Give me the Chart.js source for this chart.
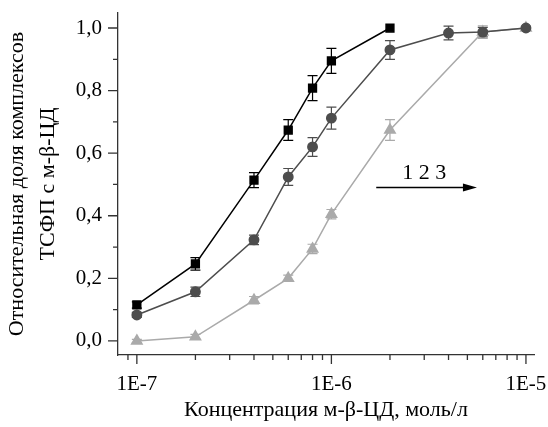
<!DOCTYPE html>
<html>
<head>
<meta charset="utf-8">
<script src="https://cdn.jsdelivr.net/npm/chart.js@4.4.0/dist/chart.umd.min.js"></script>
<style>
  html, body { margin: 0; padding: 0; background: #fff; }
  canvas { display: block; }
</style>
</head>
<body>
<canvas id="chart" width="548" height="427"></canvas>
<script>
// данные
const conc1 = [1e-7, 2e-7, 4e-7, 6e-7, 8e-7, 1e-6, 2e-6];
const frac1 = [0.115, 0.246, 0.514, 0.674, 0.808, 0.895, 1.0];
const err1  = [0.01, 0.02, 0.024, 0.033, 0.04, 0.04, 0.0];

const conc2 = [1e-7, 2e-7, 4e-7, 6e-7, 8e-7, 1e-6, 2e-6, 4e-6, 6e-6, 1e-5];
const frac2 = [0.083, 0.157, 0.323, 0.524, 0.62, 0.712, 0.93, 0.984, 0.987, 1.0];
const err2  = [0.008, 0.015, 0.015, 0.027, 0.03, 0.035, 0.03, 0.022, 0.015, 0.005];

const conc3 = [1e-7, 2e-7, 4e-7, 6e-7, 8e-7, 1e-6, 2e-6, 6e-6, 1e-5];
const frac3 = [0.0, 0.013, 0.13, 0.2, 0.294, 0.405, 0.674, 0.987, 1.0];
const err3  = [0.005, 0.008, 0.012, 0.01, 0.015, 0.015, 0.033, 0.02, 0.005];

const yMajor = [0, 0.2, 0.4, 0.6, 0.8, 1.0];
const yMinor = [0.1, 0.3, 0.5, 0.7, 0.9];
const xMajor = [1e-7, 1e-6, 1e-5];
const xMinor = [9e-8, 2e-7, 3e-7, 4e-7, 5e-7, 6e-7, 7e-7, 8e-7, 9e-7,
                2e-6, 3e-6, 4e-6, 5e-6, 6e-6, 7e-6, 8e-6, 9e-6];

const arrowText = '1 2 3';
const FONT = "'Liberation Serif', 'Times New Roman', serif";

function pts(xs, ys) { return xs.map((x, i) => ({x: x, y: ys[i]})); }

// не даём подписям крайних делений сжимать область графика
function noEdgePadding(s) {
  s.paddingLeft = 0; s.paddingRight = 0; s.paddingTop = 0; s.paddingBottom = 0;
}

const errorBars = {
  id: 'errorBars',
  beforeDatasetsDraw(chart) {
    const ctx = chart.ctx;
    const y = chart.scales.y;
    chart.data.datasets.forEach((ds, di) => {
      const meta = chart.getDatasetMeta(di);
      ctx.save();
      ctx.strokeStyle = ds.borderColor;
      ctx.lineWidth = 1.2;
      meta.data.forEach((p, i) => {
        const e = ds.errors[i];
        if (!e) return;
        const v = ds.data[i].y;
        const top = y.getPixelForValue(v + e);
        const bot = y.getPixelForValue(v - e);
        ctx.beginPath();
        ctx.moveTo(p.x, top); ctx.lineTo(p.x, bot);
        ctx.moveTo(p.x - 5, top); ctx.lineTo(p.x + 5, top);
        ctx.moveTo(p.x - 5, bot); ctx.lineTo(p.x + 5, bot);
        ctx.stroke();
      });
      ctx.restore();
    });
  }
};

const axisTicks = {
  id: 'axisTicks',
  afterDraw(chart) {
    const ctx = chart.ctx;
    const xs = chart.scales.x, ys = chart.scales.y;
    const area = chart.chartArea;
    ctx.save();
    ctx.strokeStyle = '#333';
    ctx.lineWidth = 1.3;
    ctx.beginPath();
    yMajor.forEach(v => { const p = ys.getPixelForValue(v); ctx.moveTo(area.left - 10, p); ctx.lineTo(area.left, p); });
    yMinor.forEach(v => { const p = ys.getPixelForValue(v); ctx.moveTo(area.left - 5, p); ctx.lineTo(area.left, p); });
    xMajor.forEach(v => { const p = xs.getPixelForValue(v); ctx.moveTo(p, area.bottom); ctx.lineTo(p, area.bottom + 9); });
    xMinor.forEach(v => { const p = xs.getPixelForValue(v); ctx.moveTo(p, area.bottom); ctx.lineTo(p, area.bottom + 5); });
    ctx.stroke();

    // стрелка с подписью 1 2 3
    const ax0 = xs.getPixelForValue(1.7e-6), ax1 = xs.getPixelForValue(5.6e-6);
    const ay = ys.getPixelForValue(0.49);
    ctx.strokeStyle = '#000';
    ctx.fillStyle = '#000';
    ctx.lineWidth = 1.5;
    ctx.beginPath();
    ctx.moveTo(ax0, ay); ctx.lineTo(ax1 - 8, ay);
    ctx.stroke();
    ctx.beginPath();
    ctx.moveTo(ax1, ay); ctx.lineTo(ax1 - 14, ay - 4); ctx.lineTo(ax1 - 14, ay + 4);
    ctx.closePath();
    ctx.fill();
    ctx.font = '22px ' + FONT;
    ctx.textAlign = 'center';
    ctx.textBaseline = 'middle';
    ctx.fillText(arrowText, xs.getPixelForValue(3.0e-6), ys.getPixelForValue(0.537));
    ctx.restore();
  }
};

new Chart(document.getElementById('chart'), {
  type: 'line',
  data: {
    datasets: [
      { data: pts(conc1, frac1), errors: err1, borderColor: '#000', backgroundColor: '#000',
        pointStyle: 'rect', pointRadius: 5.5, borderWidth: 1.5 },
      { data: pts(conc2, frac2), errors: err2, borderColor: '#4d4d4d', backgroundColor: '#4d4d4d',
        pointStyle: 'circle', pointRadius: 4.7, borderWidth: 1.5 },
      { data: pts(conc3, frac3), errors: err3, borderColor: '#aaaaaa', backgroundColor: '#aaaaaa',
        pointStyle: 'triangle', pointRadius: 6, borderWidth: 1.5 }
    ]
  },
  options: {
    responsive: false,
    animation: false,
    layout: { padding: { top: 13, right: 14, left: 0, bottom: 0 } },
    plugins: { legend: { display: false }, tooltip: { enabled: false } },
    scales: {
      x: {
        type: 'logarithmic',
        min: 8e-8,
        max: 1.1e-5,
        grid: { display: false, drawTicks: false },
        border: { display: true, color: '#333', width: 1.3 },
        afterBuildTicks: s => { s.ticks = xMajor.map(v => ({value: v})); },
        afterFit: s => { s.height = 72; noEdgePadding(s); },
        ticks: {
          color: '#000', padding: 17, maxRotation: 0, autoSkip: false,
          font: { family: FONT, size: 21 },
          callback: v => '1E' + Math.round(Math.log10(v))
        },
        title: {
          display: true, text: 'Концентрация м-β-ЦД, моль/л', color: '#000',
          font: { family: FONT, size: 22 }, padding: { top: 0, bottom: 4 }
        }
      },
      y: {
        min: -0.045,
        max: 1.048,
        grid: { display: false, drawTicks: false },
        border: { display: true, color: '#333', width: 1.3 },
        afterBuildTicks: s => { s.ticks = yMajor.map(v => ({value: v})); },
        afterFit: s => { s.width = 118; noEdgePadding(s); },
        ticks: {
          color: '#000', padding: 16,
          font: { family: FONT, size: 21 },
          callback: v => v.toFixed(1).replace('.', ',')
        },
        title: {
          display: true, text: ['Относительная доля комплексов', 'ТСФП с м-β-ЦД'], color: '#000',
          font: { family: FONT, size: 22, lineHeight: 1.4 }, padding: { top: 1.6, bottom: 0 }
        }
      }
    }
  },
  plugins: [errorBars, axisTicks]
});
</script>
</body>
</html>
